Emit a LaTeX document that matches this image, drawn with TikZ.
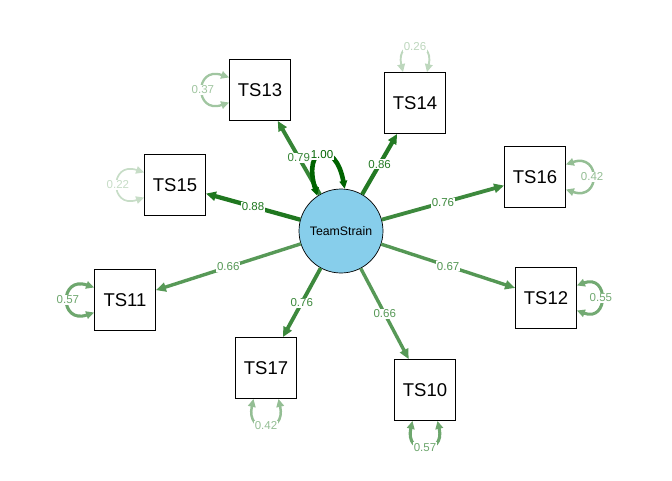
\documentclass[tikz,border=0pt]{standalone}
\usepackage{fontspec}
\setmainfont{Liberation Sans}
\usetikzlibrary{arrows.meta}
\definecolor{semgreen}{HTML}{006400}
\definecolor{latfill}{HTML}{87CEEB}

\begin{document}
\begin{tikzpicture}[x=1pt, y=-1pt,
	manifest/.style={draw=black, line width=0.8pt, minimum size=61pt, inner sep=0pt, font=\fontsize{18.5}{21}\selectfont},
	latent/.style={circle, draw=black, line width=0.7pt, fill=latfill, minimum size=84pt, inner sep=0pt, font=\fontsize{12.3}{14}\selectfont},
	load/.style={-{Triangle[length=10pt,width=9pt]}},
	resid/.style={{Triangle[length=8pt,width=7.5pt]}-{Triangle[length=8pt,width=7.5pt]}},
	elab/.style={fill=white, inner sep=1pt, font=\fontsize{11.5}{13}\selectfont}]
		\useasboundingbox (0,0) rectangle (672,480);
		
		% The latent factor in the middle
		\node[latent] (ts) at (341,231) {TeamStrain};
		
		% The indicator boxes round it
		\node[manifest] (ts13) at (260,90) {TS13};
		\node[manifest] (ts14) at (415,103) {TS14};
		\node[manifest] (ts15) at (175,185) {TS15};
		\node[manifest] (ts16) at (535,177) {TS16};
		\node[manifest] (ts11) at (125,300) {TS11};
		\node[manifest] (ts12) at (546,298) {TS12};
		\node[manifest] (ts17) at (266,368) {TS17};
		\node[manifest] (ts10) at (425,390) {TS10};
		
		% Loadings from the factor to the indicators
		\draw[load, line width=3.9pt, semgreen!79!white] (ts) -- (ts13) node[elab, midway] {0.79};
		\draw[load, line width=4.2pt, semgreen!86!white] (ts) -- (ts14) node[elab, midway] {0.86};
		\draw[load, line width=4.3pt, semgreen!88!white] (ts) -- (ts15) node[elab, midway] {0.88};
		\draw[load, line width=3.8pt, semgreen!76!white] (ts) -- (ts16) node[elab, midway] {0.76};
		\draw[load, line width=3.4pt, semgreen!66!white] (ts) -- (ts11) node[elab, midway] {0.66};
		\draw[load, line width=3.4pt, semgreen!67!white] (ts) -- (ts12) node[elab, midway] {0.67};
		\draw[load, line width=3.8pt, semgreen!76!white] (ts) -- (ts17) node[elab, midway] {0.76};
		\draw[load, line width=3.4pt, semgreen!66!white] (ts) -- (ts10) node[elab, midway] {0.66};
		
		% Variance of the factor
		\draw[resid, line width=4.6pt, semgreen] (ts.124) .. controls (302,145) and (336,140) .. (ts.85) node[elab, midway] {1.00};
		
		% Residual variances of the indicators
		\draw[resid, line width=2.3pt, semgreen!37!white] ([yshift=12.5pt]ts13.west) .. controls +(-35,-12) and +(-35,12) .. ([yshift=-12.5pt]ts13.west) node[elab, midway] {0.37};
		\draw[resid, line width=1.9pt, semgreen!26!white] ([xshift=-12pt]ts14.north) .. controls +(-8,-34) and +(8,-34) .. ([xshift=12pt]ts14.north) node[elab, midway] {0.26};
		\draw[resid, line width=1.7pt, semgreen!22!white] ([yshift=12.5pt]ts15.west) .. controls +(-35,-12) and +(-35,12) .. ([yshift=-12.5pt]ts15.west) node[elab, midway] {0.22};
		\draw[resid, line width=2.5pt, semgreen!42!white] ([yshift=12.5pt]ts16.east) .. controls +(35,-12) and +(35,12) .. ([yshift=-12.5pt]ts16.east) node[elab, midway] {0.42};
		\draw[resid, line width=3.1pt, semgreen!57!white] ([yshift=12.5pt]ts11.west) .. controls +(-35,-12) and +(-35,12) .. ([yshift=-12.5pt]ts11.west) node[elab, midway] {0.57};
		\draw[resid, line width=3pt, semgreen!55!white] ([yshift=12.5pt]ts12.east) .. controls +(32,-12) and +(32,12) .. ([yshift=-12.5pt]ts12.east) node[elab, midway] {0.55};
		\draw[resid, line width=2.5pt, semgreen!42!white] ([xshift=-12.5pt]ts17.south) .. controls +(-8,36) and +(8,36) .. ([xshift=12.5pt]ts17.south) node[elab, midway] {0.42};
		\draw[resid, line width=3.1pt, semgreen!57!white] ([xshift=-12.5pt]ts10.south) .. controls +(-8,35) and +(8,35) .. ([xshift=12.5pt]ts10.south) node[elab, midway] {0.57};
		
	\end{tikzpicture}
\end{document}
